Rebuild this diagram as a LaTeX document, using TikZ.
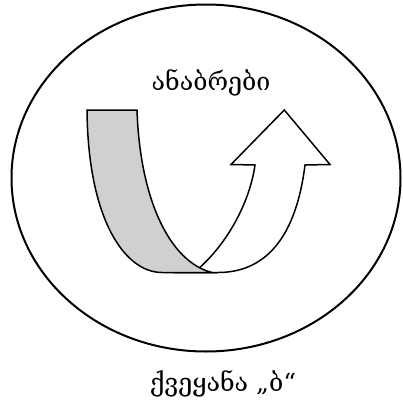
\documentclass[tikz,border=0pt]{standalone}
\usepackage{fontspec}
\setmainfont{DejaVu Serif}
\usepackage{tikz}
\usetikzlibrary{shapes.geometric}
\definecolor{bandgray}{HTML}{D0D0D0}

\begin{document}
\begin{tikzpicture}[x=1pt,y=-1pt,
  lbl/.style={font=\fontsize{25}{28}\selectfont,inner sep=0pt}]
\useasboundingbox (0,0) rectangle (402,407);
\draw[line width=2pt] (206,178) ellipse [x radius=194.5, y radius=173.5];
% white arrow (front side)
\draw[fill=white,line width=1.5pt,line join=miter]
  (199.8,267.5) .. controls (230,240) and (250,200) .. (255,165)
  -- (231,164.5) -- (284.3,110) -- (330,164.5) -- (305,165)
  .. controls (295,245) and (260,272.5) .. (218,272.5) -- (180,272.5) -- cycle;
% gray band (back side)
\draw[fill=bandgray,line width=1.5pt,line join=miter]
  (87,110) -- (137,110) .. controls (140,200) and (170,262) .. (212,272.5)
  -- (162,272.5) .. controls (125,272.5) and (88,220) .. (87,110) -- cycle;
\node[lbl] (deposits) at (211,83) {ანაბრები};
\node[lbl] (country) at (223,384) {ქვეყანა „ბ“};
\end{tikzpicture}
\end{document}
